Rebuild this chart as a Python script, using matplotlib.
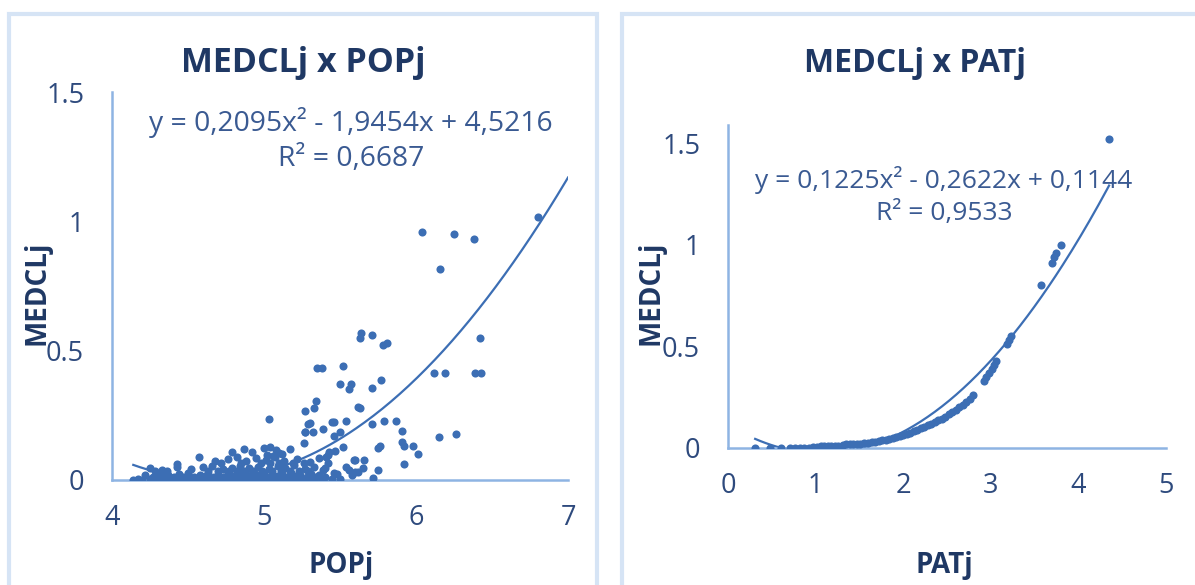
import numpy as np
import matplotlib.pyplot as plt
from matplotlib.patches import Rectangle

plt.rcParams['font.family'] = ['Open Sans', 'DejaVu Sans']

# ---- data: MEDCLj x POPj ----
pop_x = [
    # scattered points
    6.04, 6.25, 6.38, 6.16, 6.80,
    5.64, 5.63, 5.71, 5.81, 5.78, 6.42, 5.35, 5.38, 5.52,
    6.12, 6.19, 6.39, 6.43,
    5.50, 5.57, 5.56, 5.71, 5.77,
    5.34, 5.33, 5.27, 5.62, 5.63,
    5.30, 5.45, 5.54, 5.39, 5.27, 5.32,
    5.71, 5.79, 5.87, 5.91, 5.91, 5.92, 5.98, 6.01, 5.92,
    6.15, 6.26, 5.76, 5.75, 5.66, 5.59, 5.75, 5.72,
    5.46, 5.50, 5.52, 5.47, 5.42, 5.42, 5.26, 5.56, 5.62, 5.60,
    5.03, 5.29, 5.27, 5.46, 5.54, 5.46, 5.39, 5.41, 5.43,
    5.58, 5.60, 5.65,
    # bottom row
    4.14, 4.17, 4.20, 4.25, 4.28, 4.30, 4.33, 4.36, 4.38, 4.40,
    4.42, 4.45, 4.47, 4.50, 4.52, 4.55, 4.57, 4.60, 4.62, 4.65,
    4.67, 4.70, 4.72, 4.75, 4.77, 4.80, 4.82, 4.85, 4.87, 4.90,
    4.92, 4.95, 4.97, 5.00, 5.02, 5.05, 5.07, 5.10, 5.12, 5.15,
    5.17, 5.20, 5.23, 5.26, 5.30, 5.33, 5.38, 5.45, 5.50,
    # second row
    4.22, 4.30, 4.37, 4.44, 4.50, 4.58, 4.63, 4.70, 4.76, 4.83,
    4.88, 4.94, 5.00, 5.06, 5.12, 5.18, 5.24, 5.31, 5.36, 5.48,
    4.27, 4.34, 4.41, 4.47, 4.54, 4.61, 4.67, 4.73, 4.80, 4.86,
    4.91, 4.97, 5.03, 5.09, 5.15, 5.21, 5.28, 5.34, 5.40,
    # third row
    4.25, 4.33, 4.43, 4.52, 4.60, 4.66, 4.73, 4.79, 4.84, 4.90,
    4.96, 5.03, 5.09, 5.14, 5.20, 5.27, 5.33, 5.40,
    4.63, 4.70, 4.77, 4.82, 4.87, 4.93, 4.99, 5.05, 5.11, 5.17,
    5.23, 5.29,
    # fourth row
    4.57, 4.68, 4.76, 4.82, 4.88, 4.95, 5.01, 5.07, 5.13, 5.22,
    5.30, 5.36, 4.72, 4.85, 4.98, 5.04, 5.10, 5.19, 5.26,
    # upper row
    4.79, 4.87, 4.92, 5.00, 5.04, 5.08, 5.12, 5.17, 4.43, 4.28, 4.36,
    5.02, 5.06, 5.10,
]
pop_y = [
    0.957, 0.951, 0.932, 0.816, 1.015,
    0.569, 0.550, 0.560, 0.530, 0.520, 0.550, 0.432, 0.432, 0.440,
    0.414, 0.414, 0.414, 0.414,
    0.370, 0.372, 0.350, 0.357, 0.387,
    0.305, 0.280, 0.267, 0.281, 0.280,
    0.219, 0.223, 0.229, 0.196, 0.184, 0.184,
    0.215, 0.229, 0.229, 0.190, 0.146, 0.131, 0.131, 0.099, 0.062,
    0.165, 0.176, 0.131, 0.122, 0.076, 0.076, 0.039, 0.006,
    0.171, 0.187, 0.126, 0.113, 0.097, 0.064, 0.142, 0.039, 0.032, 0.077,
    0.236, 0.215, 0.187, 0.225, 0.052, 0.026, 0.039, 0.090, 0.110,
    0.020, 0.030, 0.045,
    0.000, 0.002, 0.000, 0.004, 0.001, 0.000, 0.003, 0.000, 0.005, 0.002,
    0.000, 0.004, 0.001, 0.000, 0.006, 0.002, 0.000, 0.003, 0.001, 0.005,
    0.000, 0.002, 0.006, 0.000, 0.003, 0.001, 0.004, 0.000, 0.006, 0.002,
    0.000, 0.005, 0.001, 0.003, 0.000, 0.006, 0.002, 0.004, 0.000, 0.003,
    0.005, 0.001, 0.004, 0.000, 0.003, 0.002, 0.005, 0.003, 0.002,
    0.020, 0.025, 0.018, 0.022, 0.027, 0.019, 0.024, 0.021, 0.026, 0.020,
    0.025, 0.022, 0.028, 0.019, 0.024, 0.027, 0.021, 0.025, 0.018, 0.022,
    0.012, 0.014, 0.011, 0.013, 0.012, 0.015, 0.011, 0.013, 0.014, 0.012,
    0.015, 0.011, 0.013, 0.014, 0.012, 0.015, 0.011, 0.013, 0.012,
    0.045, 0.040, 0.052, 0.044, 0.050, 0.055, 0.042, 0.048, 0.056, 0.046,
    0.052, 0.043, 0.055, 0.047, 0.058, 0.044, 0.050, 0.046,
    0.035, 0.034, 0.036, 0.033, 0.035, 0.034, 0.036, 0.033, 0.035, 0.034,
    0.036, 0.033,
    0.090, 0.075, 0.082, 0.088, 0.072, 0.085, 0.078, 0.090, 0.074, 0.080,
    0.070, 0.085, 0.065, 0.066, 0.064, 0.067, 0.065, 0.066, 0.064,
    0.107, 0.120, 0.110, 0.122, 0.129, 0.116, 0.100, 0.120, 0.062, 0.036, 0.036,
    0.098, 0.092, 0.105,
]
pop_coef = [0.2095, -1.9454, 4.5216]
pop_eq = "y = 0,2095x² - 1,9454x + 4,5216\nR² = 0,6687"

# ---- data: MEDCLj x PATj ----
pat_x = [0.31, 0.48, 0.61, 0.71, 0.76, 0.82, 0.87, 0.92, 0.97, 1.02,
         1.06, 1.10, 1.14, 1.18, 1.22, 1.26, 1.31, 1.35, 1.39, 1.43,
         1.47, 1.51, 1.55, 1.60, 1.64, 1.68, 1.72, 1.76, 1.80, 1.84,
         1.88, 1.92, 1.96, 2.00, 2.04, 2.08, 2.12, 2.16, 2.20, 2.24,
         2.28, 2.32, 2.36, 2.40, 2.44, 2.48, 2.52, 2.56, 2.60, 2.64,
         2.68, 2.72, 2.76, 2.80, 2.92, 2.95, 2.98, 3.01, 3.04, 3.06,
         3.19, 3.21, 3.23, 3.57, 3.70, 3.72, 3.74, 3.80, 4.35]
pat_y = [0.000, 0.000, 0.000, 0.000, 0.000, 0.000, 0.000, 0.000, 0.005, 0.007,
         0.008, 0.009, 0.010, 0.010, 0.011, 0.012, 0.014, 0.018, 0.019, 0.020,
         0.021, 0.022, 0.024, 0.026, 0.028, 0.031, 0.034, 0.037, 0.040, 0.044,
         0.048, 0.053, 0.058, 0.063, 0.069, 0.075, 0.082, 0.089, 0.097, 0.105,
         0.113, 0.120, 0.128, 0.136, 0.145, 0.155, 0.165, 0.176, 0.188, 0.200,
         0.213, 0.226, 0.240, 0.260, 0.330, 0.350, 0.370, 0.390, 0.410, 0.430,
         0.510, 0.530, 0.550, 0.800, 0.910, 0.940, 0.960, 1.000, 1.520]
pat_coef = [0.1225, -0.2622, 0.1144]
pat_eq = "y = 0,1225x² - 0,2622x + 0,1144\nR² = 0,9533"

W, H = 1195, 585
dot = '#3C6EB4'
axis_col = '#8EB4E3'
tick_col = '#2E4A7D'
dark = '#1F3864'
eq_col = '#3A5A92'


def fx(px):
    return px / W


def fy(py):
    return 1 - py / H


fig = plt.figure(figsize=(W / 100, H / 100), dpi=100)

# panel frames
for x0, x1 in [(9, 597), (622, 1205)]:
    fig.patches.append(Rectangle((fx(x0), fy(600)), fx(x1 - x0), (600 - 14) / H,
                                 transform=fig.transFigure, fill=False,
                                 ec='#D6E4F5', lw=3))


def make_panel(rect, x, y, coef, xr, xlim, ylim, xticks, eq, eq_pos,
               title, title_pos, xlabel, xlabel_pos, ylabel, ylabel_pos,
               sizes):
    tick_fs, eq_fs, title_fs, lab_fs = sizes
    ax = fig.add_axes(rect)
    ax.scatter(x, y, s=34, color=dot, zorder=3, linewidths=0)
    xs = np.linspace(xr[0], xr[1], 200)
    ax.plot(xs, np.polyval(coef, xs), color=dot, lw=1.6, zorder=2)
    ax.set_xlim(*xlim)
    ax.set_ylim(*ylim)
    ax.set_xticks(xticks)
    ax.set_xticklabels([str(t) for t in xticks])
    ax.set_yticks([0, 0.5, 1, 1.5])
    ax.set_yticklabels(['0', '0.5', '1', '1.5'])
    for s in ['top', 'right']:
        ax.spines[s].set_visible(False)
    for s in ['left', 'bottom']:
        ax.spines[s].set_color(axis_col)
        ax.spines[s].set_linewidth(1.8)
    ax.tick_params(length=0, labelsize=tick_fs, labelcolor=tick_col)
    ax.tick_params(axis='y', pad=20)
    ax.tick_params(axis='x', pad=17)
    ax.patch.set_alpha(0)
    fig.text(fx(eq_pos[0]), fy(eq_pos[1]), eq, ha='center', va='center',
             fontsize=eq_fs, color=eq_col, linespacing=1.35)
    fig.text(fx(title_pos[0]), fy(title_pos[1]), title, ha='center',
             va='center', fontsize=title_fs, fontweight='bold', color=dark)
    fig.text(fx(xlabel_pos[0]), fy(xlabel_pos[1]), xlabel, ha='center',
             va='center', fontsize=lab_fs, fontweight='bold', color=dark)
    fig.text(fx(ylabel_pos[0]), fy(ylabel_pos[1]), ylabel, ha='center',
             va='center', rotation=90, fontsize=lab_fs, fontweight='bold',
             color=dark)
    return ax


make_panel([fx(112), fy(480), fx(568 - 112), (480 - 92) / H],
           pop_x, pop_y, pop_coef, (4.14, 7.0), (4, 7), (0, 1.5),
           [4, 5, 6, 7], pop_eq, (351, 140),
           'MEDCLj x POPj', (303, 63), 'POPj', (341, 565),
           'MEDCLj', (37, 293), (19.5, 20.3, 24.5, 20))

make_panel([fx(728), fy(448), fx(1166 - 728), (448 - 125) / H],
           pat_x, pat_y, pat_coef, (0.31, 4.35), (0, 5), (0, 1.59),
           [0, 1, 2, 3, 4, 5], pat_eq, (944, 196),
           'MEDCLj x PATj', (915, 63), 'PATj', (944, 566),
           'MEDCLj', (651, 293), (19.5, 19, 23, 20))

fig.savefig('out.png', dpi=100)
